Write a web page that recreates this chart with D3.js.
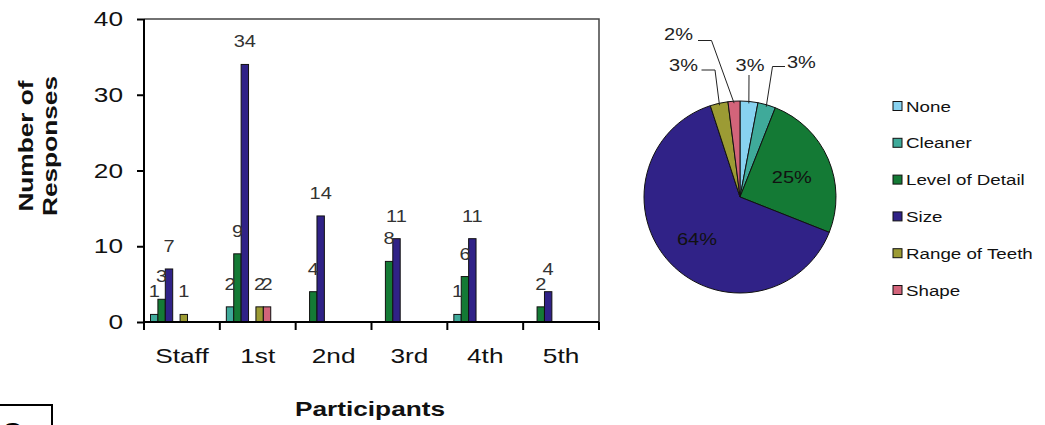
<!DOCTYPE html>
<html>
<head>
<meta charset="utf-8">
<script src="https://cdn.jsdelivr.net/npm/d3@7/dist/d3.min.js"></script>
<style>
  html, body { margin: 0; padding: 0; background: #fff; }
  svg { display: block; }
  text { font-family: "Liberation Sans", Arial, sans-serif; }
</style>
</head>
<body>
<svg id="chart" width="1045" height="425"></svg>
<script>
// ---- data ----
const categories = ["Staff", "1st", "2nd", "3rd", "4th", "5th"];
const seriesNames = ["None", "Cleaner", "Level of Detail", "Size", "Range of Teeth", "Shape"];
const seriesColors = ["#88d2f0", "#3faa9a", "#147a35", "#302287", "#9c9b34", "#d2647a"];
const noneValues = [0, 0, 0, 0, 0, 0];
const cleanerValues = [1, 2, 0, 0, 1, 0];
const detailValues = [3, 9, 4, 8, 6, 2];
const sizeValues = [7, 34, 14, 11, 11, 4];
const rangeValues = [1, 2, 0, 0, 0, 0];
const shapeValues = [0, 2, 0, 0, 0, 0];
const yTicks = [0, 10, 20, 30, 40];
// share of all responses, percent
const pieShares = [3, 3, 25, 64, 3, 2];

const seriesValues = {
  "None": noneValues,
  "Cleaner": cleanerValues,
  "Level of Detail": detailValues,
  "Size": sizeValues,
  "Range of Teeth": rangeValues,
  "Shape": shapeValues
};
// order of the bars inside each category group
const slotOrder = ["Cleaner", "Level of Detail", "Size", "None", "Range of Teeth", "Shape"];

const color = d3.scaleOrdinal().domain(seriesNames).range(seriesColors);
const svg = d3.select("#chart");
const SX = 1.25; // glyphs are drawn a little wider than the font's natural width

function label(g, str, x, y, opts = {}) {
  const rot = opts.rotate ? ` rotate(${opts.rotate})` : "";
  return g.append("text")
    .attr("transform", `translate(${x},${y})${rot} scale(${SX},1)`)
    .attr("text-anchor", opts.anchor || "start")
    .attr("font-size", opts.size || 16)
    .attr("font-weight", opts.weight || "normal")
    .attr("fill", opts.fill || "#111")
    .text(str);
}

// ---- bar chart ----
const plot = { left: 144, right: 599, top: 19, bottom: 322 };
const x0 = d3.scaleBand().domain(categories).range([plot.left, plot.right]);
const slot = 7.4, slotStart = 6.5;
const x1 = d3.scaleBand().domain(slotOrder).range([slotStart, slotStart + slot * slotOrder.length]);
const y = d3.scaleLinear().domain([0, 40]).range([plot.bottom, plot.top]);

const bars = svg.append("g");

// plot frame (top and right)
bars.append("path")
  .attr("d", `M${plot.left},${plot.top}H${plot.right}V${plot.bottom}`)
  .attr("fill", "none").attr("stroke", "#444").attr("stroke-width", 1.5);

const rows = [];
categories.forEach((c, i) => {
  slotOrder.forEach(s => rows.push({ cat: c, series: s, value: seriesValues[s][i] }));
});

bars.selectAll("rect.bar")
  .data(rows.filter(d => d.value > 0))
  .join("rect")
  .attr("class", "bar")
  .attr("x", d => x0(d.cat) + x1(d.series))
  .attr("y", d => y(d.value))
  .attr("width", x1.bandwidth())
  .attr("height", d => y(0) - y(d.value))
  .attr("fill", d => color(d.series))
  .attr("stroke", "#111")
  .attr("stroke-width", 1);

rows.filter(d => d.value > 0).forEach(d => {
  label(bars, d.value, x0(d.cat) + x1(d.series) + x1.bandwidth() / 2, y(d.value) - 17,
    { anchor: "middle", size: 16, fill: "#333" });
});

// y axis
const yAxis = bars.append("g").attr("transform", `translate(${plot.left},0)`)
  .call(d3.axisLeft(y).tickValues(yTicks).tickSize(7).tickFormat(""));
yAxis.selectAll("path, line").attr("stroke", "#000").attr("stroke-width", 2);
yAxis.select(".domain").attr("d", `M0,${plot.top}V${plot.bottom}`);
yTicks.forEach(t => label(bars, t, 123, y(t) + 7, { anchor: "end", size: 21, fill: "#111" }));

// x axis
const xAxis = bars.append("g").attr("transform", `translate(0,${plot.bottom})`);
xAxis.append("line").attr("x1", plot.left).attr("x2", plot.right)
  .attr("stroke", "#000").attr("stroke-width", 2);
const bounds = categories.map(c => x0(c)).concat([plot.right]);
xAxis.selectAll("line.tick").data(bounds).join("line")
  .attr("class", "tick")
  .attr("x1", d => d).attr("x2", d => d).attr("y1", 0).attr("y2", 8)
  .attr("stroke", "#000").attr("stroke-width", 2);
categories.forEach(c => label(bars, c, x0(c) + x0.bandwidth() / 2, 363, { anchor: "middle", size: 21 }));

// axis titles
label(bars, "Participants", 370, 416, { anchor: "middle", size: 21, weight: "bold" });
label(bars, "Number of", 33, 146, { anchor: "middle", size: 21, weight: "bold", rotate: -90 });
label(bars, "Responses", 57, 146, { anchor: "middle", size: 21, weight: "bold", rotate: -90 });

// ---- pie chart ----
const cx = 740, cy = 197, r = 96;
const pieG = svg.append("g").attr("transform", `translate(${cx},${cy})`);
const pie = d3.pie().sort(null).value(d => d.share);
const arcs = pie(seriesNames.map((n, i) => ({ name: n, share: pieShares[i] })));
const arc = d3.arc().innerRadius(0).outerRadius(r);

pieG.selectAll("path").data(arcs).join("path")
  .attr("d", arc)
  .attr("fill", d => color(d.data.name))
  .attr("stroke", "#111").attr("stroke-width", 1);

// labels inside the two large slices
const inner = d3.arc().innerRadius(r * 0.6).outerRadius(r * 0.6);
arcs.filter(d => d.data.share >= 10).forEach(d => {
  const [px, py] = inner.centroid(d);
  label(pieG, d.data.share + "%", px - 1, py + 9, { anchor: "middle", size: 16, fill: "#111" });
});

// leader lines for the small slices: elbow/end points and label anchors
const leaders = {
  "None":           { pts: [[749, 75]],                  tx: 750, ty: 71, anchor: "middle" },
  "Cleaner":        { pts: [[772.5, 66.5], [785, 66.5]], tx: 787, ty: 68, anchor: "start" },
  "Range of Teeth": { pts: [[715, 70], [701.5, 70]],     tx: 698, ty: 71, anchor: "end" },
  "Shape":          { pts: [[711.5, 40.5], [698, 40.5]], tx: 693, ty: 40, anchor: "end" }
};
arcs.filter(d => leaders[d.data.name]).forEach(d => {
  const L = leaders[d.data.name];
  const a = (d.startAngle + d.endAngle) / 2;
  const start = [cx + (r - 2) * Math.sin(a), cy - (r - 2) * Math.cos(a)];
  svg.append("path")
    .attr("d", d3.line()([start].concat(L.pts)))
    .attr("fill", "none").attr("stroke", "#222").attr("stroke-width", 1);
  label(svg, d.data.share + "%", L.tx, L.ty, { anchor: L.anchor, size: 16, fill: "#222" });
});

// legend
const legend = svg.append("g");
seriesNames.forEach((n, i) => {
  const ly = 106 + i * 36.8;
  legend.append("rect").attr("x", 893).attr("y", ly - 4.5).attr("width", 9).attr("height", 9)
    .attr("fill", color(n)).attr("stroke", "#111").attr("stroke-width", 1);
  label(legend, n, 906, ly + 5.5, { size: 15, fill: "#111" });
});

// panel tag at the lower left corner
svg.append("rect").attr("x", -2).attr("y", 405).attr("width", 54).attr("height", 30)
  .attr("fill", "none").attr("stroke", "#000").attr("stroke-width", 2);
svg.append("text").attr("x", 2).attr("y", 442).attr("font-size", 28).attr("font-weight", "bold")
  .attr("fill", "#000").text("C");
</script>
</body>
</html>
